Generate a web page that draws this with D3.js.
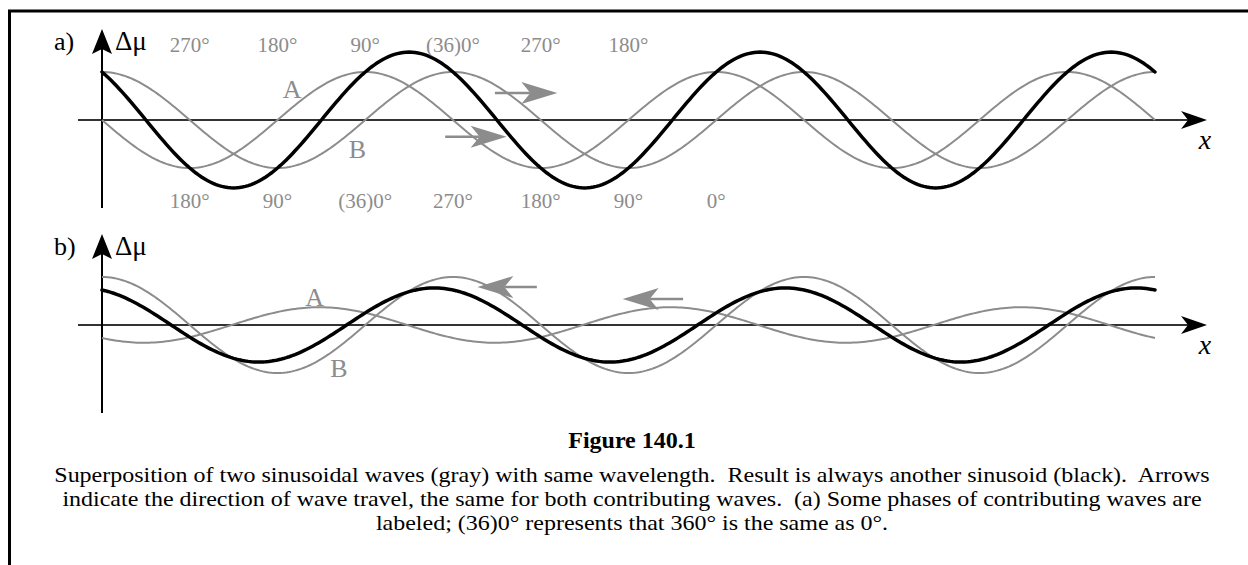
<!DOCTYPE html>
<html lang="en">
<head>
<meta charset="utf-8">
<title>Figure 140.1</title>
<script src="https://d3js.org/d3.v7.min.js"></script>
<style>
  body { margin: 0; background: #fff; }
  svg text { font-family: "Liberation Serif", "Times New Roman", serif; }
</style>
</head>
<body>
<script>
// contributing waves, per panel: amplitude (relative to wave B) and phase offset in degrees
var panels = ["a)", "b)"];
var ampA = [1, 0.37], phaseA = [90, 137];
var ampB = [1, 1], phaseB = [0, 0];
var cycles = 3;

// phase labels of panel a, one per quarter wavelength
var topPhases = ["270°", "180°", "90°", "(36)0°", "270°", "180°"];
var bottomPhases = ["180°", "90°", "(36)0°", "270°", "180°", "90°", "0°"];

var captionTitle = "Figure 140.1";
var captionLines = [
  "Superposition of two sinusoidal waves (gray) with same wavelength.  Result is always another sinusoid (black).  Arrows",
  "indicate the direction of wave travel, the same for both contributing waves.  (a) Some phases of contributing waves are",
  "labeled; (36)0° represents that 360° is the same as 0°."
];

var w = 1248, h = 565,
    gray = "#8c8c8c",
    axisY = [120, 325],
    ampPx = 48;

var svg = d3.select("body").append("svg")
    .attr("width", w)
    .attr("height", h);

// frame (left and top edges only)
svg.append("path")
    .attr("d", "M9.5," + h + "V11H" + w)
    .attr("fill", "none")
    .attr("stroke", "#000")
    .attr("stroke-width", 3);

var x = d3.scaleLinear().domain([0, 360 * cycles]).range([102, 1155]);
var samples = d3.range(0, 360 * cycles + 0.01, 3);

function wave(amp, phase) {
    return function (t) { return amp * Math.cos((t + phase) * Math.PI / 180); };
}

// annotation placement, in (phase, amplitude) units
var labelPos = [
    { A: [195, 0.46], B: [262, -0.79] },
    { A: [218, 0.40], B: [243, -1.08] }
];
var arrowPos = [
    [[403, 467, 0.56], [352, 415, -0.35]],
    [[446, 385, 0.79], [596, 534, 0.54]]
];

panels.forEach(function (name, p) {
    var ay = axisY[p];
    var y = d3.scaleLinear().domain([-1, 1]).range([ay + ampPx, ay - ampPx]);
    var g = svg.append("g");

    // axes
    g.append("line")
        .attr("x1", 78).attr("x2", 1190)
        .attr("y1", ay).attr("y2", ay)
        .attr("stroke", "#333").attr("stroke-width", 2.2);
    g.append("path")
        .attr("d", "M1207," + ay + "L1181," + (ay - 9) + "L1188," + ay + "L1181," + (ay + 9) + "Z")
        .attr("fill", "#000");
    var tip = ay - 91;
    g.append("line")
        .attr("x1", x(0)).attr("x2", x(0))
        .attr("y1", tip + 15).attr("y2", ay + 88)
        .attr("stroke", "#000").attr("stroke-width", 2);
    g.append("path")
        .attr("d", "M" + x(0) + "," + tip + "L" + (x(0) - 10) + "," + (tip + 25) +
              "L" + x(0) + "," + (tip + 20) + "L" + (x(0) + 10) + "," + (tip + 25) + "Z")
        .attr("fill", "#000");

    g.append("text")
        .attr("x", 54).attr("y", ay - 70)
        .attr("font-size", 26)
        .text(name);
    g.append("text")
        .attr("x", 115).attr("y", ay - 70)
        .attr("font-size", 27)
        .text("Δμ");
    g.append("text")
        .attr("x", 1205).attr("y", ay + 29)
        .attr("text-anchor", "middle")
        .attr("font-size", 28)
        .attr("font-style", "italic")
        .text("x");

    // waves
    var fA = wave(ampA[p], phaseA[p]),
        fB = wave(ampB[p], phaseB[p]);
    var line = d3.line()
        .x(function (d) { return x(d[0]); })
        .y(function (d) { return y(d[1]); });

    [fA, fB].forEach(function (f) {
        g.append("path")
            .attr("d", line(samples.map(function (t) { return [t, f(t)]; })))
            .attr("fill", "none")
            .attr("stroke", gray)
            .attr("stroke-width", 2);
    });
    g.append("path")
        .attr("d", line(samples.map(function (t) { return [t, fA(t) + fB(t)]; })))
        .attr("fill", "none")
        .attr("stroke", "#000")
        .attr("stroke-width", 3.5)
        .attr("stroke-linecap", "round");

    // wave names
    ["A", "B"].forEach(function (k) {
        g.append("text")
            .attr("x", x(labelPos[p][k][0]))
            .attr("y", y(labelPos[p][k][1]))
            .attr("text-anchor", "middle")
            .attr("font-size", 26)
            .attr("fill", gray)
            .text(k);
    });

    // direction arrows
    arrowPos[p].forEach(function (a) {
        var x0 = x(a[0]), x1 = x(a[1]), yy = y(a[2]),
            dir = x1 > x0 ? 1 : -1,
            back = x1 - dir * 36, notch = x1 - dir * 27;
        g.append("line")
            .attr("x1", x0).attr("x2", notch)
            .attr("y1", yy).attr("y2", yy)
            .attr("stroke", gray).attr("stroke-width", 2.5);
        g.append("path")
            .attr("d", "M" + x1 + "," + yy + "L" + back + "," + (yy - 11) +
                  "L" + notch + "," + yy + "L" + back + "," + (yy + 11) + "Z")
            .attr("fill", gray);
    });

    if (p === 0) {
        g.selectAll("text.top").data(topPhases).enter().append("text")
            .attr("class", "top")
            .attr("x", function (d, i) { return x(90 * (i + 1)); })
            .attr("y", ay - 68)
            .attr("text-anchor", "middle")
            .attr("font-size", 21)
            .attr("fill", gray)
            .text(function (d) { return d; });
        g.selectAll("text.bottom").data(bottomPhases).enter().append("text")
            .attr("class", "bottom")
            .attr("x", function (d, i) { return x(90 * (i + 1)); })
            .attr("y", ay + 88)
            .attr("text-anchor", "middle")
            .attr("font-size", 21)
            .attr("fill", gray)
            .text(function (d) { return d; });
    }
});

// caption
svg.append("text")
    .attr("x", 632).attr("y", 448)
    .attr("text-anchor", "middle")
    .attr("font-size", 24)
    .attr("font-weight", "bold")
    .text(captionTitle);

// body text is set a little wide, as in the source page
var cap = svg.append("g")
    .attr("transform", "translate(632,0) scale(1.116,1)");
cap.selectAll("text").data(captionLines).enter().append("text")
    .attr("x", 0)
    .attr("y", function (d, i) { return 482 + i * 24; })
    .attr("text-anchor", "middle")
    .attr("font-size", 21.5)
    .style("white-space", "pre")
    .text(function (d) { return d; });
</script>
</body>
</html>
